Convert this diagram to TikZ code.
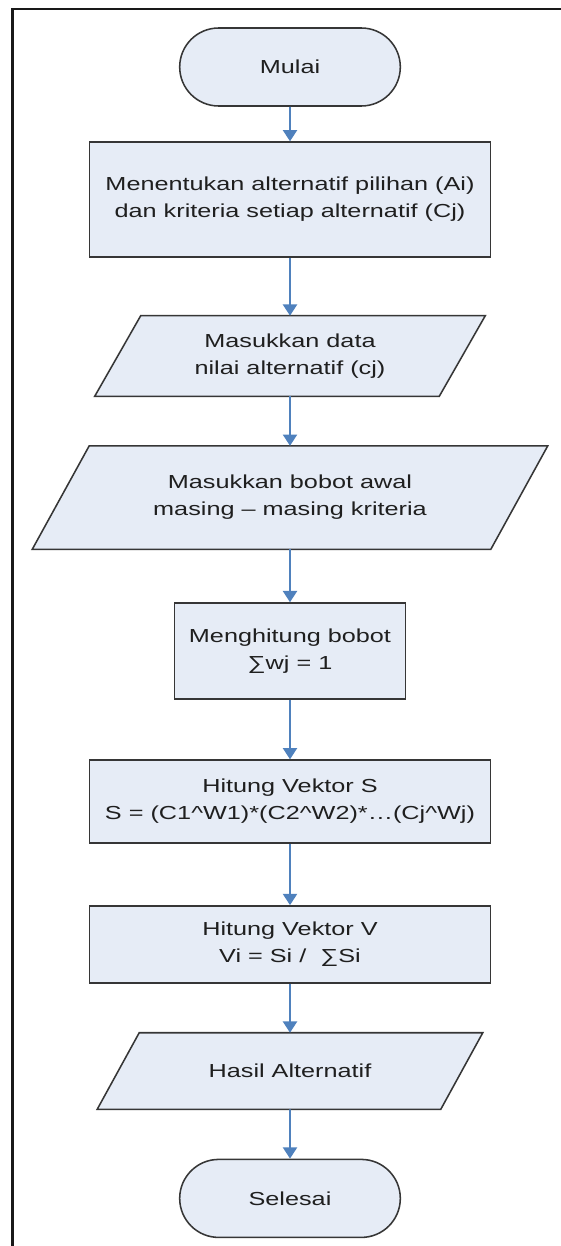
\documentclass[tikz,border=0pt]{standalone}
\usepackage{fontspec}
\setmainfont{Liberation Sans}[FakeStretch=1.34]
\usepackage{xcolor}
\usetikzlibrary{arrows.meta,positioning,shapes.geometric,shapes.misc,backgrounds}

\definecolor{boxfill}{HTML}{E6ECF6}
\definecolor{boxline}{HTML}{363636}
\definecolor{flowblue}{HTML}{4F81BD}

\begin{document}
\begin{tikzpicture}[
    every node/.style={font=\fontsize{13.4}{19.2}\selectfont, text=black!88},
    terminal/.style={rounded rectangle, draw=boxline, fill=boxfill, line width=1.1pt, minimum width=5.75cm, minimum height=1.95cm},
    process/.style={rectangle, draw=boxline, fill=boxfill, line width=1.1pt, align=center},
    io/.style={rectangle, align=center},
    iobox/.style={draw=boxline, fill=boxfill, line width=1.1pt, line join=miter},
    flow/.style={draw=flowblue, line width=1.4pt, -{Triangle[width=10pt,length=8pt]}}
]
    \useasboundingbox (0,0) rectangle (14,-31.15);

    % Frame
    \draw[line width=2pt, black!90] (0.3125,-31.3) -- (0.3125,-0.225) -- (14.1,-0.225);

    % Start and input
    \node[terminal] (mulai) at (7.25,-1.675) {Mulai};
    \node[process, minimum width=10.025cm, minimum height=2.875cm] (tentukan) at (7.25,-4.99)
        {Menentukan alternatif pilihan (Ai)\\dan kriteria setiap alternatif (Cj)};
    \node[io, minimum width=8.6cm, minimum height=2.0cm] (data) at (7.25,-8.9)
        {Masukkan data\\nilai alternatif (cj)};
    \node[io, minimum width=11.45cm, minimum height=2.575cm] (bobot) at (7.25,-12.44)
        {Masukkan bobot awal\\masing -- masing kriteria};

    % Computation
    \node[process, minimum width=5.775cm, minimum height=2.4cm] (hitungw) at (7.25,-16.275)
        {Menghitung bobot\\∑wj = 1};
    \node[process, minimum width=10.025cm, minimum height=2.075cm] (vektors) at (7.25,-20.04)
        {Hitung Vektor S\\S = (C1\textasciicircum W1)*(C2\textasciicircum W2)*…(Cj\textasciicircum Wj)};
    \node[process, minimum width=10.025cm, minimum height=1.925cm] (vektorv) at (7.25,-23.61)
        {Hitung Vektor V\\Vi = Si /\ \ ∑Si};

    % Output and end
    \node[io, minimum width=8.575cm, minimum height=1.9cm] (hasil) at (7.25,-26.775) {Hasil Alternatif};
    \node[terminal] (selesai) at (7.25,-29.96) {Selesai};

    % Parallelograms behind the input/output texts
    \begin{scope}[on background layer]
        \foreach \n/\s in {data/0.575, bobot/0.7125, hasil/0.525}
            \draw[iobox] ([xshift=\s cm]\n.north west) -- ([xshift=\s cm]\n.north east)
                -- ([xshift=-\s cm]\n.south east) -- ([xshift=-\s cm]\n.south west) -- cycle;
    \end{scope}

    % Arrows
    \draw[flow] (mulai) -- (tentukan);
    \draw[flow] (tentukan) -- (data);
    \draw[flow] (data) -- (bobot);
    \draw[flow] (bobot) -- (hitungw);
    \draw[flow] (hitungw) -- (vektors);
    \draw[flow] (vektors) -- (vektorv);
    \draw[flow] (vektorv) -- (hasil);
    \draw[flow] (hasil) -- (selesai);
\end{tikzpicture}
\end{document}
